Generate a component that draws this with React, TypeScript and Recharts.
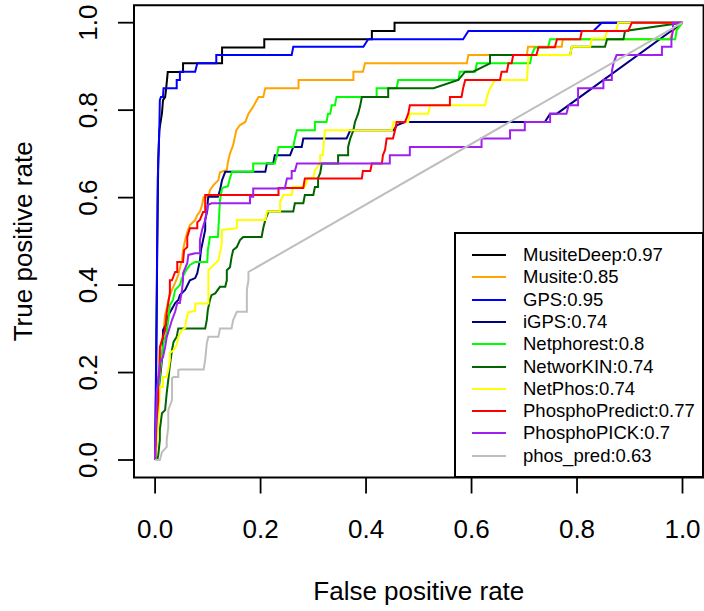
import React from 'react';
import { LineChart, Line, XAxis, YAxis, ReferenceArea, Label } from 'recharts';

const FONT = '"Liberation Sans", Arial, Helvetica, sans-serif';

const axisTicks = [0, 0.2, 0.4, 0.6, 0.8, 1];
const tickLabels = ['0.0', '0.2', '0.4', '0.6', '0.8', '1.0'];
const xTitle = 'False positive rate';
const yTitle = 'True positive rate';

const seriesNames = ['MusiteDeep', 'Musite', 'GPS', 'iGPS', 'Netphorest', 'NetworKIN', 'NetPhos', 'PhosphoPredict', 'PhosphoPICK', 'phos_pred'];
const seriesAuc = ['0.97', '0.85', '0.95', '0.74', '0.8', '0.74', '0.74', '0.77', '0.7', '0.63'];
const seriesColors = ['#000000', '#FFA500', '#0000FF', '#000080', '#00FF00', '#006400', '#FFFF00', '#FF0000', '#A020F0', '#BEBEBE'];

// [fpr, tpr]
const musiteDeep = [[0,0],[0.002,0.183],[0.004,0.48],[0.006,0.686],[0.008,0.754],[0.011,0.777],[0.013,0.793],[0.015,0.823],[0.019,0.83],[0.021,0.85],[0.024,0.887],[0.053,0.887],[0.053,0.907],[0.127,0.907],[0.127,0.943],[0.207,0.943],[0.207,0.962],[0.411,0.962],[0.411,0.981],[0.454,0.981],[0.454,1],[1,1]];
const musite = [[0,0],[0.002,0.091],[0.004,0.16],[0.006,0.194],[0.009,0.251],[0.013,0.274],[0.016,0.297],[0.019,0.331],[0.022,0.347],[0.025,0.366],[0.028,0.377],[0.032,0.389],[0.038,0.405],[0.044,0.423],[0.047,0.439],[0.051,0.457],[0.053,0.48],[0.057,0.503],[0.061,0.521],[0.066,0.537],[0.076,0.549],[0.08,0.56],[0.085,0.568],[0.089,0.583],[0.092,0.601],[0.101,0.601],[0.104,0.617],[0.111,0.629],[0.12,0.64],[0.123,0.658],[0.136,0.663],[0.138,0.681],[0.142,0.701],[0.148,0.72],[0.154,0.754],[0.161,0.766],[0.171,0.773],[0.177,0.792],[0.186,0.808],[0.196,0.83],[0.205,0.83],[0.209,0.85],[0.272,0.85],[0.272,0.869],[0.376,0.869],[0.376,0.888],[0.394,0.888],[0.398,0.907],[0.591,0.907],[0.594,0.926],[0.705,0.926],[0.707,0.945],[0.771,0.945],[0.773,0.962],[0.976,0.962],[0.982,0.981],[1,1]];
const gps = [[0,0],[0.003,0.366],[0.005,0.64],[0.008,0.754],[0.009,0.823],[0.011,0.83],[0.015,0.83],[0.016,0.85],[0.041,0.85],[0.041,0.869],[0.047,0.869],[0.047,0.888],[0.076,0.888],[0.08,0.907],[0.116,0.907],[0.116,0.926],[0.259,0.926],[0.262,0.945],[0.395,0.945],[0.404,0.962],[0.584,0.962],[0.594,0.981],[0.831,0.981],[0.847,1],[1,1]];
const igps = [[0,0],[0.003,0.046],[0.003,0.144],[0.009,0.183],[0.013,0.229],[0.015,0.263],[0.015,0.297],[0.023,0.313],[0.025,0.331],[0.034,0.35],[0.038,0.359],[0.044,0.366],[0.047,0.377],[0.057,0.389],[0.066,0.411],[0.076,0.416],[0.08,0.427],[0.085,0.457],[0.087,0.48],[0.091,0.503],[0.095,0.526],[0.095,0.549],[0.099,0.571],[0.1,0.594],[0.101,0.602],[0.119,0.602],[0.123,0.617],[0.127,0.64],[0.133,0.659],[0.209,0.659],[0.212,0.678],[0.224,0.678],[0.227,0.697],[0.256,0.697],[0.262,0.716],[0.278,0.716],[0.281,0.735],[0.363,0.735],[0.37,0.754],[0.452,0.754],[0.459,0.766],[0.474,0.773],[0.739,0.773],[0.749,0.792],[0.762,0.792],[1,1]];
const netphorest = [[0,0],[0.004,0.069],[0.007,0.137],[0.009,0.194],[0.013,0.24],[0.017,0.274],[0.021,0.286],[0.025,0.32],[0.028,0.354],[0.034,0.366],[0.038,0.389],[0.047,0.4],[0.051,0.416],[0.059,0.434],[0.066,0.446],[0.076,0.453],[0.099,0.453],[0.1,0.48],[0.104,0.51],[0.119,0.51],[0.121,0.549],[0.123,0.594],[0.127,0.622],[0.138,0.626],[0.142,0.645],[0.146,0.659],[0.186,0.659],[0.186,0.678],[0.227,0.678],[0.231,0.697],[0.234,0.716],[0.262,0.716],[0.265,0.735],[0.269,0.754],[0.303,0.754],[0.303,0.773],[0.325,0.773],[0.328,0.792],[0.332,0.792],[0.335,0.811],[0.341,0.811],[0.344,0.83],[0.42,0.83],[0.42,0.85],[0.458,0.85],[0.461,0.869],[0.575,0.869],[0.578,0.888],[0.607,0.888],[0.61,0.907],[0.711,0.907],[0.714,0.926],[0.72,0.943],[0.745,0.943],[0.749,0.962],[0.986,0.962],[0.989,0.983],[1,1]];
const networkin = [[0.004,0],[0.006,0.011],[0.009,0.046],[0.009,0.069],[0.013,0.107],[0.019,0.114],[0.022,0.153],[0.025,0.183],[0.028,0.217],[0.032,0.251],[0.035,0.27],[0.041,0.282],[0.044,0.301],[0.095,0.301],[0.098,0.32],[0.1,0.343],[0.104,0.366],[0.107,0.377],[0.114,0.381],[0.123,0.396],[0.133,0.396],[0.136,0.411],[0.136,0.434],[0.142,0.441],[0.145,0.464],[0.148,0.48],[0.155,0.487],[0.161,0.503],[0.167,0.51],[0.202,0.51],[0.205,0.53],[0.209,0.549],[0.215,0.568],[0.262,0.568],[0.265,0.587],[0.281,0.587],[0.284,0.606],[0.3,0.606],[0.303,0.624],[0.309,0.624],[0.309,0.645],[0.313,0.656],[0.316,0.678],[0.347,0.678],[0.347,0.697],[0.366,0.697],[0.366,0.716],[0.37,0.735],[0.376,0.754],[0.379,0.773],[0.385,0.792],[0.389,0.811],[0.392,0.83],[0.442,0.83],[0.442,0.85],[0.528,0.85],[0.575,0.869],[0.588,0.888],[0.603,0.888],[0.635,0.907],[0.635,0.926],[0.787,0.926],[0.79,0.945],[0.853,0.945],[0.857,0.962],[0.888,0.962],[0.891,0.981],[1,1]];
const netphos = [[0,0],[0.004,0.046],[0.006,0.091],[0.008,0.137],[0.009,0.167],[0.015,0.167],[0.015,0.19],[0.022,0.19],[0.025,0.206],[0.028,0.229],[0.028,0.245],[0.035,0.251],[0.041,0.263],[0.044,0.281],[0.051,0.297],[0.057,0.302],[0.059,0.32],[0.063,0.338],[0.076,0.341],[0.076,0.358],[0.101,0.358],[0.101,0.434],[0.117,0.453],[0.12,0.457],[0.126,0.491],[0.127,0.526],[0.155,0.53],[0.155,0.549],[0.209,0.549],[0.212,0.568],[0.237,0.568],[0.237,0.59],[0.243,0.606],[0.259,0.606],[0.262,0.625],[0.284,0.625],[0.29,0.645],[0.3,0.645],[0.303,0.663],[0.313,0.679],[0.313,0.697],[0.318,0.697],[0.322,0.754],[0.449,0.754],[0.452,0.773],[0.48,0.773],[0.483,0.792],[0.518,0.792],[0.521,0.811],[0.626,0.811],[0.629,0.83],[0.635,0.85],[0.645,0.869],[0.705,0.869],[0.708,0.926],[0.787,0.926],[0.79,0.945],[0.825,0.945],[0.828,0.964],[0.853,0.964],[0.857,0.981],[0.874,0.981],[0.878,1],[1,1]];
const phosphoPredict = [[0,0],[0.003,0.091],[0.006,0.137],[0.006,0.183],[0.009,0.206],[0.009,0.258],[0.015,0.281],[0.019,0.297],[0.022,0.336],[0.025,0.359],[0.028,0.382],[0.028,0.411],[0.032,0.411],[0.038,0.43],[0.042,0.43],[0.042,0.453],[0.053,0.453],[0.055,0.48],[0.061,0.487],[0.061,0.51],[0.066,0.53],[0.08,0.53],[0.08,0.544],[0.085,0.549],[0.091,0.567],[0.095,0.567],[0.095,0.606],[0.234,0.606],[0.234,0.622],[0.281,0.622],[0.284,0.644],[0.392,0.644],[0.394,0.661],[0.408,0.661],[0.411,0.678],[0.43,0.678],[0.432,0.697],[0.436,0.709],[0.439,0.735],[0.451,0.735],[0.455,0.754],[0.458,0.773],[0.474,0.773],[0.48,0.792],[0.483,0.811],[0.559,0.811],[0.559,0.83],[0.581,0.83],[0.584,0.85],[0.588,0.869],[0.654,0.869],[0.657,0.888],[0.667,0.888],[0.67,0.907],[0.676,0.907],[0.679,0.926],[0.723,0.926],[0.727,0.944],[0.758,0.944],[0.762,0.962],[0.806,0.962],[0.809,0.981],[0.897,0.981],[0.904,1],[1,1]];
const phosphoPick = [[0,0],[0.003,0.153],[0.006,0.183],[0.009,0.222],[0.015,0.235],[0.019,0.258],[0.022,0.281],[0.032,0.32],[0.038,0.339],[0.042,0.359],[0.047,0.359],[0.051,0.389],[0.053,0.411],[0.053,0.427],[0.061,0.45],[0.063,0.469],[0.076,0.473],[0.085,0.473],[0.085,0.503],[0.089,0.526],[0.095,0.549],[0.1,0.583],[0.107,0.587],[0.18,0.587],[0.18,0.602],[0.186,0.602],[0.186,0.621],[0.246,0.621],[0.25,0.644],[0.259,0.644],[0.259,0.661],[0.265,0.661],[0.269,0.678],[0.445,0.678],[0.445,0.697],[0.483,0.697],[0.483,0.716],[0.619,0.716],[0.619,0.735],[0.673,0.735],[0.673,0.754],[0.701,0.754],[0.701,0.773],[0.749,0.773],[0.749,0.792],[0.78,0.792],[0.784,0.811],[0.802,0.811],[0.802,0.85],[0.85,0.85],[0.85,0.869],[0.866,0.869],[0.866,0.888],[0.869,0.907],[0.875,0.926],[0.961,0.926],[0.961,0.945],[0.979,0.945],[0.979,0.962],[0.982,0.983],[0.982,1],[1,1]];
const phosPred = [[0,0],[0.009,0],[0.013,0.018],[0.022,0.03],[0.022,0.046],[0.025,0.075],[0.025,0.114],[0.032,0.137],[0.032,0.187],[0.035,0.19],[0.044,0.19],[0.044,0.206],[0.047,0.207],[0.092,0.207],[0.095,0.229],[0.098,0.267],[0.101,0.282],[0.12,0.282],[0.123,0.301],[0.145,0.301],[0.148,0.32],[0.155,0.339],[0.174,0.339],[0.174,0.389],[0.177,0.411],[0.177,0.43],[1,1]];

const seriesPoints = [musiteDeep, musite, gps, igps, netphorest, networkin, netphos, phosphoPredict, phosphoPick, phosPred];

const toRows = (pts: number[][]) => pts.map(([fpr, tpr]) => ({ fpr, tpr }));

const XTick = (props: any) => {
  const { x, y, payload } = props;
  const i = axisTicks.indexOf(payload.value);
  return (
    <text x={x} y={y + 44.5} textAnchor="middle" fontSize={26} fontFamily={FONT} fill="#000">
      {i >= 0 ? tickLabels[i] : payload.value}
    </text>
  );
};

const YTick = (props: any) => {
  const { x, y, payload } = props;
  const i = axisTicks.indexOf(payload.value);
  const bx = x - 21;
  return (
    <text x={bx} y={y} transform={`rotate(-90 ${bx} ${y})`} textAnchor="middle" fontSize={26} fontFamily={FONT} fill="#000">
      {i >= 0 ? tickLabels[i] : payload.value}
    </text>
  );
};

const XTitle = (props: any) => {
  const vb = props.viewBox;
  return (
    <text x={vb.x + vb.width / 2} y={vb.y + 122.5} textAnchor="middle" fontSize={26} fontFamily={FONT} fill="#000">
      {xTitle}
    </text>
  );
};

const YTitle = (props: any) => {
  const vb = props.viewBox;
  const cx = vb.x + 32.5;
  const cy = vb.y + vb.height / 2;
  return (
    <text x={cx} y={cy} transform={`rotate(-90 ${cx} ${cy})`} textAnchor="middle" fontSize={26} fontFamily={FONT} fill="#000">
      {yTitle}
    </text>
  );
};

export default function App() {
  return (
    <div style={{ position: 'absolute', left: 0, top: 0, width: 704, height: 611, background: '#fff' }}>
      <LineChart width={704} height={611} margin={{ top: 5.2, right: 0.4, bottom: 0, left: 0 }}>
        <XAxis
          type="number"
          dataKey="fpr"
          domain={[-0.04, 1.04]}
          ticks={axisTicks}
          allowDataOverflow
          height={133.5}
          axisLine={false}
          tickSize={16}
          tickMargin={0}
          tickLine={{ stroke: '#000', strokeWidth: 1.8 }}
          tick={<XTick />}
          interval={0}
        >
          <Label content={<XTitle />} />
        </XAxis>
        <YAxis
          type="number"
          dataKey="tpr"
          domain={[-0.04, 1.04]}
          ticks={axisTicks}
          allowDataOverflow
          width={134}
          axisLine={false}
          tickSize={16}
          tickMargin={0}
          tickLine={{ stroke: '#000', strokeWidth: 1.8 }}
          tick={<YTick />}
          interval={0}
        >
          <Label content={<YTitle />} />
        </YAxis>
        {seriesPoints.map((pts, i) => (
          <Line
            key={seriesNames[i]}
            data={toRows(pts)}
            dataKey="tpr"
            type="linear"
            stroke={seriesColors[i]}
            strokeWidth={2}
            dot={false}
            activeDot={false}
            isAnimationActive={false}
          />
        ))}
        <ReferenceArea x1={-0.04} x2={1.04} y1={-0.04} y2={1.04} fill="none" fillOpacity={0} stroke="#000" strokeWidth={2} ifOverflow="visible" />
      </LineChart>
      <div
        style={{
          position: 'absolute',
          left: 454,
          top: 232,
          width: 249.6,
          height: 245.5,
          border: '2px solid #000',
          boxSizing: 'border-box',
          background: '#fff',
          fontFamily: FONT,
          fontSize: 18.5,
          color: '#000',
        }}
      >
        {seriesNames.map((n, i) => (
          <div
            key={n}
            style={{ position: 'absolute', left: 0, top: 21 + 22.3 * i - 11, height: 22, width: 240, lineHeight: '22px' }}
          >
            <div style={{ position: 'absolute', left: 16, top: 10, width: 34, height: 2, background: seriesColors[i] }} />
            <span style={{ position: 'absolute', left: 67, top: 0, whiteSpace: 'nowrap' }}>
              {n}:{seriesAuc[i]}
            </span>
          </div>
        ))}
      </div>
    </div>
  );
}
